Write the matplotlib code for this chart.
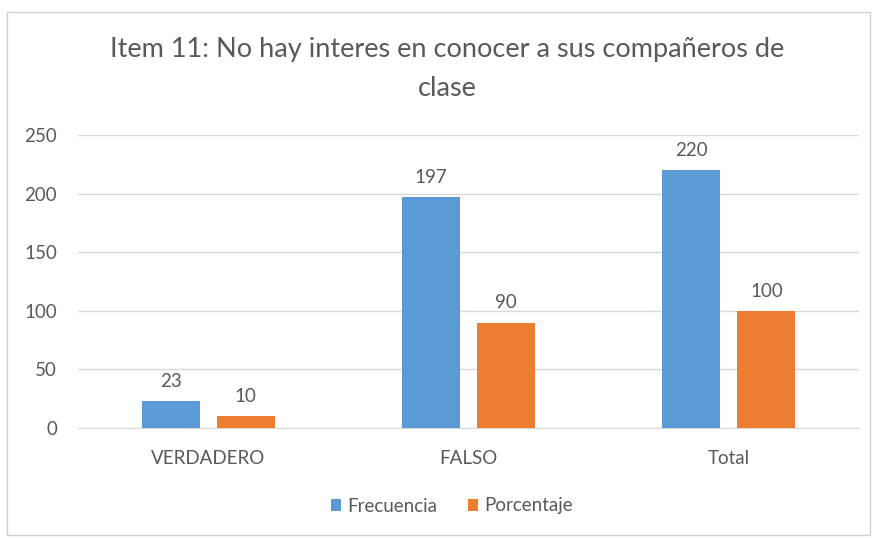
import numpy as np
import matplotlib.pyplot as plt
from matplotlib.patches import Rectangle

categorias = ["VERDADERO", "FALSO", "Total"]
frecuencia = [23, 197, 220]
porcentaje = [10, 90, 100]
titulo = "Item 11: No hay interes en conocer a sus compañeros de\nclase"

azul = "#5B9BD5"
naranja = "#ED7D31"
gris = "#595959"

plt.rcParams['font.family'] = ['Lato', 'DejaVu Sans']

fig = plt.figure(figsize=(8.77, 5.38), dpi=100)
ax = fig.add_axes([78/877, 1-428/538, (859-78)/877, (428-135)/538])

x = np.arange(len(categorias))
ancho = 0.223
desp = 0.144
b1 = ax.bar(x - desp, frecuencia, ancho, color=azul, label="Frecuencia", zorder=3)
b2 = ax.bar(x + desp, porcentaje, ancho, color=naranja, label="Porcentaje", zorder=3)

for barras in (b1, b2):
    for b in barras:
        ax.annotate(f"{int(b.get_height())}", (b.get_x() + b.get_width()/2, b.get_height()),
                    xytext=(0, 8), textcoords="offset points", ha="center", va="bottom",
                    fontsize=13.5, color=gris)

ax.set_xlim(-0.5, 2.5)
ax.set_ylim(0, 250)
ax.set_yticks(range(0, 251, 50))
ax.set_xticks(x, categorias)
ax.tick_params(axis='both', length=0, labelsize=13.5, colors=gris)
ax.tick_params(axis='x', pad=16)
ax.tick_params(axis='y', pad=15)
ax.grid(axis='y', color="#D9D9D9", linewidth=1, zorder=0)
for s in ax.spines.values():
    s.set_visible(False)
ax.spines['bottom'].set_visible(True)
ax.spines['bottom'].set_color("#D9D9D9")

fig.text(447/877, 1-69/538, titulo, ha="center", va="center", fontsize=19.5,
         color=gris, linespacing=1.7)

fig.legend(handles=[b1, b2], loc="center", bbox_to_anchor=(452/877, 1-506/538),
           ncol=2, frameon=False, fontsize=13.5, labelcolor=gris,
           handlelength=0.55, handleheight=0.55, handletextpad=0.35, columnspacing=1.6)

fig.patches.append(Rectangle((7/877, 1-535/538), 863/877, 523/538, transform=fig.transFigure,
                             fill=False, edgecolor="#D0D0D0", linewidth=1))

fig.savefig("out.png", dpi=100)
